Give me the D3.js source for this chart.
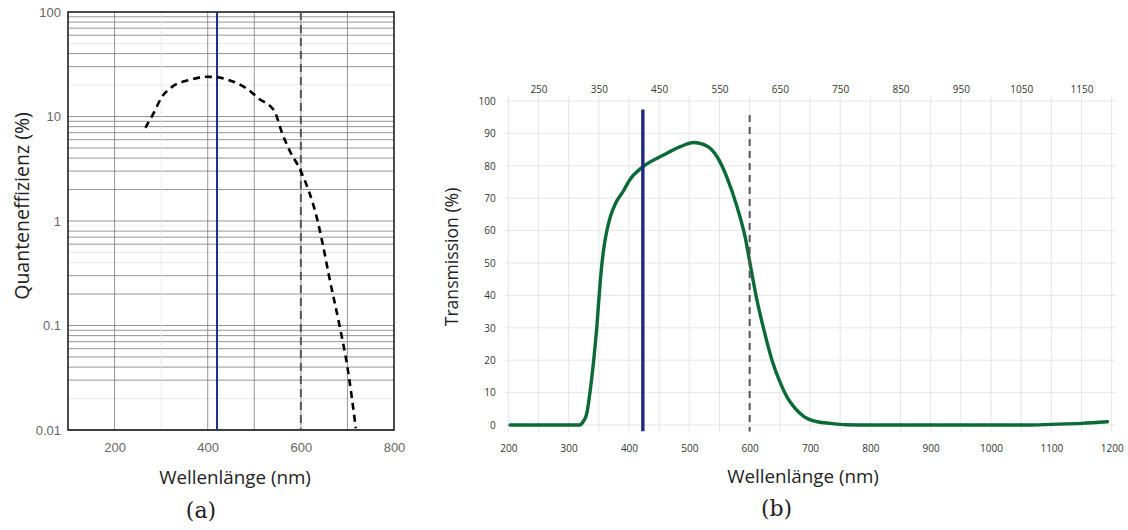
<!DOCTYPE html>
<html>
<head>
<meta charset="utf-8">
<script src="https://cdn.jsdelivr.net/npm/d3@7"></script>
<style>
  body { margin: 0; background: #fff; }
  svg { display: block; }
  .tickA text { font-family: "Liberation Sans", Arial, sans-serif; font-size: 13px; fill: #666; }
  .tickB text { font-family: "Open Sans", sans-serif; font-size: 10px; fill: #333; }
  .title { font-family: "Open Sans", sans-serif; font-size: 18.8px; fill: #222; }
  .panel { font-family: "DejaVu Serif", serif; font-size: 22px; fill: #222; }
</style>
</head>
<body>
<div id="drawing"></div>
<script>
"use strict"

/**** DATA ****/

// (a) quantum efficiency of the detector, percent (log axis)
let qeWavelength = [266, 285, 300, 322, 360, 398, 420, 440, 483, 510, 543, 560, 575, 600, 636, 647, 661, 683, 700, 718]
let qeValue = [7.8, 11, 15, 19, 22.3, 24, 23.8, 22.7, 18.6, 14.8, 11.3, 6.9, 4.8, 3.0, 1.0, 0.6, 0.29, 0.1, 0.04, 0.0104]

// (b) filter transmission, percent
let trWavelength = [203, 250, 300, 318, 324, 330, 336, 341, 347, 351, 355, 359, 364, 370, 378, 391, 401, 423, 457, 485, 507, 529, 546, 562, 579, 593, 600, 612, 623, 637, 651, 662, 675, 690, 712, 734, 760, 800, 900, 1000, 1060, 1100, 1150, 1193]
let trValue = [0, 0, 0, 0, 1, 3.5, 11, 19, 31, 41, 49.5, 55.5, 60.5, 64.8, 68.5, 72.3, 75.6, 79.7, 83.3, 85.9, 87.2, 86.1, 82.8, 76.6, 67.4, 57.6, 50.5, 38.6, 29.8, 20, 12.9, 8.6, 5.2, 2.6, 1.0, 0.5, 0.1, 0, 0, 0, 0, 0.2, 0.5, 1.0]

// markers
let excitationLine = 420      // solid blue line in (a)
let excitationLineB = 423     // solid blue line in (b)
let cutoffLine = 600          // dashed grey line

// tick labels
let qeXTicks = [200, 400, 600, 800]
let qeYTicks = [0.01, 0.1, 1, 10, 100]
let qeYLabels = ["0.01", "0.1", "1", "10", "100"]
let trBottomTicks = [200, 300, 400, 500, 600, 700, 800, 900, 1000, 1100, 1200]
let trTopTicks = [250, 350, 450, 550, 650, 750, 850, 950, 1050, 1150]
let trYTicks = [0, 10, 20, 30, 40, 50, 60, 70, 80, 90, 100]

// grid lines of (a) that come out lighter in the original
let qeLightGrid = [50, 20, 0.9, 0.5, 0.4, 0.02]
let qeLightVGrid = [300]

/**** CANVAS ****/
let svgWidth = 1128
let svgHeight = 530

let svg = d3.select("#drawing")
.append("svg")
.attr("width", svgWidth)
.attr("height", svgHeight)

svg.append("rect")
.attr("width", svgWidth)
.attr("height", svgHeight)
.attr("fill", "#fff")

/**** PANEL (a) ****/

let xA = d3.scaleLinear().domain([100, 800]).range([68, 394])
let yA = d3.scaleLog().domain([0.01, 100]).range([430, 12])

let gA = svg.append("g")

// log grid: 1..9 in each decade
let minorA = []
for (let e = -2; e < 2; e++) {
    for (let k = 1; k <= 9; k++) {
        minorA.push(+(k * Math.pow(10, e)).toPrecision(3))
    }
}

gA.selectAll("line.hgrid")
.data(minorA)
.join("line")
.attr("class", "hgrid")
.attr("x1", xA(100))
.attr("x2", xA(800))
.attr("y1", d => yA(d))
.attr("y2", d => yA(d))
.attr("stroke", d => qeLightGrid.includes(d) ? "#e4e4e4" : "#7a7a7a")
.attr("stroke-width", 0.8)

gA.selectAll("line.vgrid")
.data(d3.range(200, 800, 100))
.join("line")
.attr("class", "vgrid")
.attr("x1", d => xA(d))
.attr("x2", d => xA(d))
.attr("y1", yA(100))
.attr("y2", yA(0.01))
.attr("stroke", d => qeLightVGrid.includes(d) ? "#e4e4e4" : "#7a7a7a")
.attr("stroke-width", 0.8)

// frame
gA.append("rect")
.attr("x", xA(100))
.attr("y", yA(100))
.attr("width", xA(800) - xA(100))
.attr("height", yA(0.01) - yA(100))
.attr("fill", "none")
.attr("stroke", "#111")
.attr("stroke-width", 1.5)

// cutoff line
gA.append("line")
.attr("x1", xA(cutoffLine))
.attr("x2", xA(cutoffLine))
.attr("y1", yA(100))
.attr("y2", yA(0.01))
.attr("stroke", "#555")
.attr("stroke-width", 2)
.attr("stroke-dasharray", "8,5")

// excitation line
gA.append("line")
.attr("x1", xA(excitationLine))
.attr("x2", xA(excitationLine))
.attr("y1", yA(100))
.attr("y2", yA(0.01))
.attr("stroke", "#1f2d8a")
.attr("stroke-width", 2)

// quantum efficiency curve
let qeData = qeWavelength.map((w, i) => ({w: w, v: qeValue[i]}))
gA.append("path")
.datum(qeData)
.attr("fill", "none")
.attr("stroke", "#000")
.attr("stroke-width", 2.6)
.attr("stroke-dasharray", "7,5")
.attr("d", d3.line().x(d => xA(d.w)).y(d => yA(d.v)).curve(d3.curveMonotoneX))

// axes (labels only)
gA.append("g")
.attr("class", "tickA")
.attr("transform", `translate(0,${yA(0.01)})`)
.call(d3.axisBottom(xA).tickValues(qeXTicks).tickSize(0).tickPadding(13).tickFormat(d3.format("d")))
.call(g => g.select(".domain").remove())

gA.append("g")
.attr("class", "tickA")
.attr("transform", `translate(${xA(100)},0)`)
.call(d3.axisLeft(yA).tickValues(qeYTicks).tickSize(0).tickPadding(7)
    .tickFormat((d, i) => qeYLabels[i]))
.call(g => g.select(".domain").remove())

gA.append("text")
.attr("class", "title")
.attr("x", 235)
.attr("y", 484)
.style("text-anchor", "middle")
.text("Wellenlänge (nm)")

gA.append("text")
.attr("class", "title")
.attr("transform", "translate(29,206) rotate(-90)")
.style("text-anchor", "middle")
.style("font-size", "19.5px")
.text("Quanteneffizienz (%)")

gA.append("text")
.attr("class", "panel")
.attr("x", 201)
.attr("y", 518)
.style("text-anchor", "middle")
.text("(a)")

/**** PANEL (b) ****/

let xB = d3.scaleLinear().domain([200, 1200]).range([508.3, 1111.7])
let yB = d3.scaleLinear().domain([0, 100]).range([425, 101])

let gB = svg.append("g")

gB.selectAll("line.vgrid")
.data(d3.range(200, 1201, 50))
.join("line")
.attr("class", "vgrid")
.attr("x1", d => xB(d))
.attr("x2", d => xB(d))
.attr("y1", yB(100) - 5)
.attr("y2", yB(0) + 7)
.attr("stroke", "#dedede")
.attr("stroke-width", 0.8)

gB.selectAll("line.hgrid")
.data(trYTicks)
.join("line")
.attr("class", "hgrid")
.attr("x1", xB(200) - 3)
.attr("x2", xB(1200) + 4)
.attr("y1", d => yB(d))
.attr("y2", d => yB(d))
.attr("stroke", "#dedede")
.attr("stroke-width", 0.8)

gB.append("g")
.attr("class", "tickB")
.attr("transform", `translate(0,${yB(0)})`)
.call(d3.axisBottom(xB).tickValues(trBottomTicks).tickSize(0).tickPadding(19.5).tickFormat(d3.format("d")))
.call(g => g.select(".domain").remove())

gB.append("g")
.attr("class", "tickB")
.attr("transform", `translate(0,${yB(100)})`)
.call(d3.axisTop(xB).tickValues(trTopTicks).tickSize(0).tickPadding(8.5).tickFormat(d3.format("d")))
.call(g => g.select(".domain").remove())

gB.append("g")
.attr("class", "tickB")
.attr("transform", `translate(${xB(200)},0)`)
.call(d3.axisLeft(yB).tickValues(trYTicks).tickSize(0).tickPadding(12.6))
.call(g => g.select(".domain").remove())

// transmission curve
let trData = trWavelength.map((w, i) => ({w: w, v: trValue[i]}))
gB.append("path")
.datum(trData)
.attr("fill", "none")
.attr("stroke", "#0b6a36")
.attr("stroke-width", 3.4)
.attr("stroke-linecap", "round")
.attr("d", d3.line().x(d => xB(d.w)).y(d => yB(d.v)).curve(d3.curveMonotoneX))

// cutoff line
gB.append("line")
.attr("x1", xB(cutoffLine))
.attr("x2", xB(cutoffLine))
.attr("y1", yB(95.7))
.attr("y2", yB(-2))
.attr("stroke", "#555")
.attr("stroke-width", 2)
.attr("stroke-dasharray", "7,5")

// excitation line
gB.append("line")
.attr("x1", xB(excitationLineB))
.attr("x2", xB(excitationLineB))
.attr("y1", yB(97.4))
.attr("y2", yB(-1.9))
.attr("stroke", "#1c2a80")
.attr("stroke-width", 3.4)

gB.append("text")
.attr("class", "title")
.attr("x", 803)
.attr("y", 483)
.style("text-anchor", "middle")
.text("Wellenlänge (nm)")

gB.append("text")
.attr("class", "title")
.attr("transform", "translate(458,257) rotate(-90)")
.style("text-anchor", "middle")
.style("font-size", "17.6px")
.text("Transmission (%)")

gB.append("text")
.attr("class", "panel")
.attr("x", 776.5)
.attr("y", 516)
.style("text-anchor", "middle")
.text("(b)")
</script>
</body>
</html>
